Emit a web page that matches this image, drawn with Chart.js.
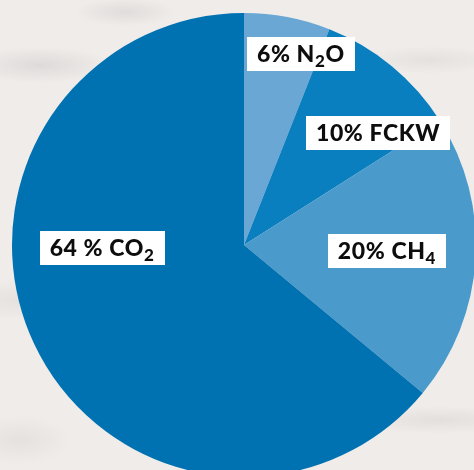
<!DOCTYPE html>
<html>
<head>
<meta charset="utf-8">
<script src="https://cdn.jsdelivr.net/npm/chart.js@4"></script>
<style>
  html, body { margin: 0; padding: 0; width: 474px; height: 470px; overflow: hidden; }
  body {
    background-color: #efece9;
    background-image:
      radial-gradient(ellipse 70px 18px at 40px 65px, rgba(200,196,200,0.45), rgba(200,196,200,0) 100%),
      radial-gradient(ellipse 50px 14px at 125px 12px, rgba(200,196,200,0.4), rgba(200,196,200,0) 100%),
      radial-gradient(ellipse 80px 20px at 30px 300px, rgba(210,206,206,0.4), rgba(210,206,206,0) 100%),
      radial-gradient(ellipse 90px 14px at 440px 420px, rgba(210,204,204,0.4), rgba(210,204,204,0) 100%),
      radial-gradient(ellipse 70px 14px at 430px 60px, rgba(212,208,208,0.4), rgba(212,208,208,0) 100%),
      radial-gradient(ellipse 50px 24px at 20px 440px, rgba(212,208,208,0.4), rgba(212,208,208,0) 100%);
  }
  #wrap { position: absolute; left: 0; top: 0; width: 488px; height: 490px; }
</style>
</head>
<body>
<div id="wrap"><canvas id="c"></canvas></div>
<script>
// Data
const categories = ['N2O', 'FCKW', 'CH4', 'CO2'];
const values = [6, 10, 20, 64];
const labelTexts = ['6% N_2O', '10% FCKW', '20% CH_4', '64 % CO_2'];
const sliceColors = ['#6aa7d5', '#0a7fbf', '#4a9acb', '#0072b2'];

// label anchor positions relative to pie center, in units of radius
const labelOffsets = [[0.245, -0.823], [0.578, -0.483], [0.616, 0.026], [-0.612, 0.013]];

function parseParts(s) {
  const parts = [];
  let buf = '';
  for (let i = 0; i < s.length; i++) {
    if (s[i] === '_' && i + 1 < s.length) {
      if (buf) parts.push({ t: buf, sub: false });
      buf = '';
      parts.push({ t: s[i + 1], sub: true });
      i++;
    } else buf += s[i];
  }
  if (buf) parts.push({ t: buf, sub: false });
  return parts;
}

const labelPlugin = {
  id: 'boxLabels',
  afterDatasetsDraw(chart) {
    const ctx = chart.ctx;
    const meta = chart.getDatasetMeta(0);
    const mainFont = '900 23px "Lato", "DejaVu Sans", sans-serif';
    const subFont = '900 17px "Lato", "DejaVu Sans", sans-serif';
    meta.data.forEach((arc, i) => {
      const r = arc.outerRadius;
      const cx = arc.x + labelOffsets[i][0] * r;
      const cy = arc.y + labelOffsets[i][1] * r;
      const parts = parseParts(labelTexts[i]);
      ctx.save();
      ctx.letterSpacing = '0.6px';
      let w = 0;
      parts.forEach(p => {
        ctx.font = p.sub ? subFont : mainFont;
        p.w = ctx.measureText(p.t).width;
        w += p.w;
      });
      const padX = 10, h = 34;
      ctx.fillStyle = '#ffffff';
      ctx.fillRect(Math.round(cx - w / 2 - padX), Math.round(cy - h / 2), Math.round(w + 2 * padX), h);
      ctx.fillStyle = '#0d0d0d';
      ctx.textBaseline = 'alphabetic';
      ctx.textAlign = 'left';
      let x = cx - w / 2;
      const base = cy + 8;
      parts.forEach(p => {
        ctx.font = p.sub ? subFont : mainFont;
        ctx.fillText(p.t, x, p.sub ? base + 5 : base);
        x += p.w;
      });
      ctx.restore();
    });
  }
};

new Chart(document.getElementById('c'), {
  type: 'pie',
  data: {
    labels: categories,
    datasets: [{
      data: values,
      backgroundColor: sliceColors,
      borderWidth: 0,
      hoverOffset: 0
    }]
  },
  options: {
    responsive: true,
    maintainAspectRatio: false,
    animation: false,
    layout: { padding: { left: 12, right: 12, top: 13, bottom: 13 } },
    plugins: { legend: { display: false }, tooltip: { enabled: false } }
  },
  plugins: [labelPlugin]
});
</script>
</body>
</html>
